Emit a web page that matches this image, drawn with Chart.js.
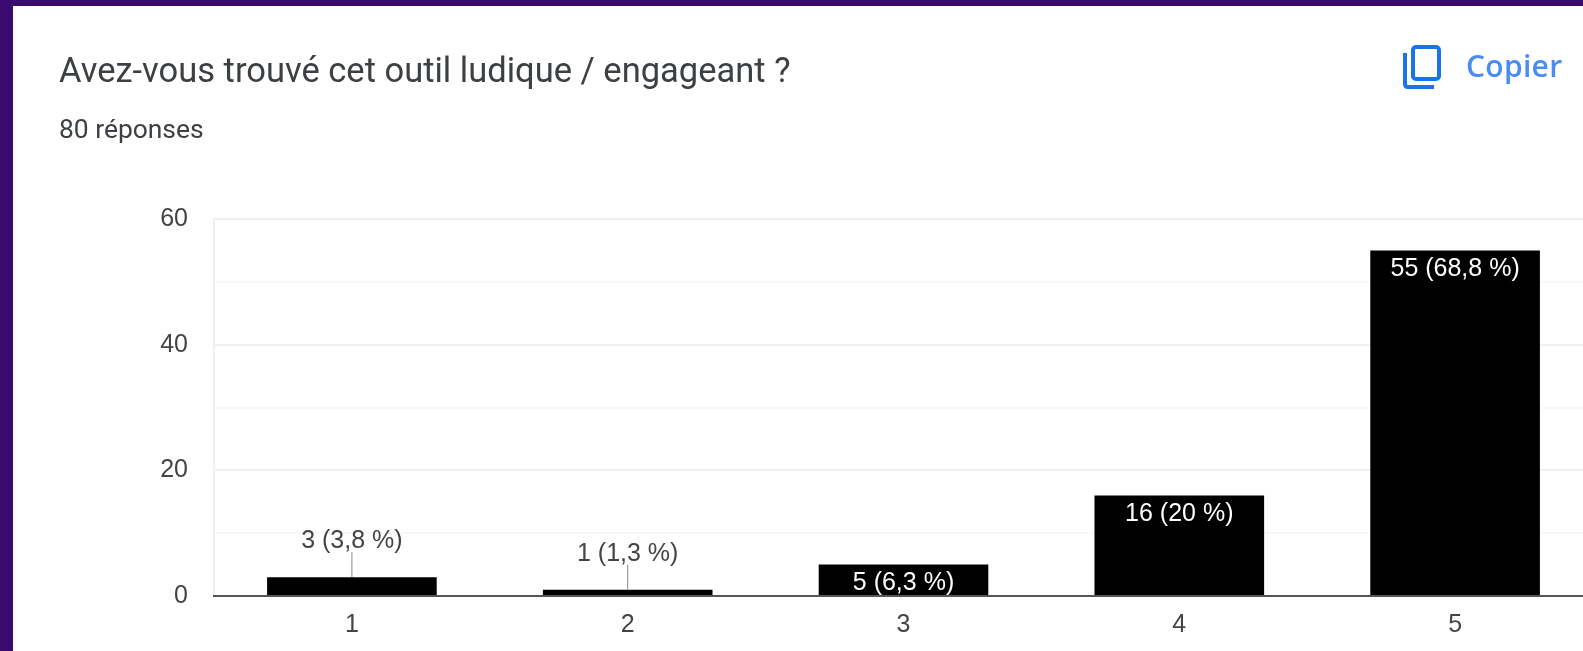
<!DOCTYPE html>
<html lang="fr">
<head>
<meta charset="utf-8">
<title>Avez-vous trouvé cet outil ludique / engageant ?</title>
<script src="https://cdn.jsdelivr.net/npm/chart.js@4"></script>
<style>
  html, body { margin: 0; padding: 0; width: 1583px; height: 651px; overflow: hidden; background: #3a0a6e; }
  #carte { position: absolute; left: 13px; top: 6px; width: 1570px; height: 645px; background: #fff; }
  /* le canvas dépasse à droite : le tracé est coupé par le bord de la capture */
  #graphique { position: absolute; left: 0; top: 0; }
  .texte { position: absolute; white-space: nowrap; font-family: Roboto, sans-serif; }
  #titre { left: 59px; top: 50px; font-size: 34.5px; line-height: 40px; color: #3c4043; }
  #reponses { left: 59px; top: 114px; font-size: 26.4px; line-height: 30px; color: #3c4043; }
  #copier { left: 1466px; top: 48px; font-size: 30px; line-height: 36px; letter-spacing: 0.3px; color: #4a8cf0; font-family: "Open Sans", sans-serif; font-weight: 600; }
  #icone { position: absolute; left: 1403px; top: 45px; }
</style>
</head>
<body>
<div id="carte"></div>
<canvas id="graphique" width="1600" height="651"></canvas>
<div class="texte" id="titre">Avez-vous trouvé cet outil ludique / engageant ?</div>
<div class="texte" id="reponses">80 réponses</div>
<svg id="icone" width="38" height="44" viewBox="0 0 38 44" fill="none" stroke="#1a73e8" stroke-width="4">
  <rect x="10" y="2" width="26" height="32" rx="3"></rect>
  <path d="M2 8 V39 Q2 42 5 42 H31"></path>
</svg>
<div class="texte" id="copier">Copier</div>
<script>
    // Données
    const categories = ['1', '2', '3', '4', '5'];
    const valeurs = [3, 1, 5, 16, 55];
    const etiquettes = ['3 (3,8 %)', '1 (1,3 %)', '5 (6,3 %)', '16 (20 %)', '55 (68,8 %)'];
    const ticksAffiches = [0, 20, 40, 60];

    const colorTexte = '#444444';
    const familleLabels = '"Liberation Sans", Arial, sans-serif';

    // Étiquettes de valeur : dans la barre si elle est assez haute, sinon au-dessus avec un trait
    const etiquettesBarres = {
        id: 'etiquettesBarres',
        afterDatasetsDraw(chart) {
            const { ctx } = chart;
            const barres = chart.getDatasetMeta(0).data;
            ctx.save();
            ctx.font = '25px ' + familleLabels;
            ctx.textAlign = 'center';
            ctx.textBaseline = 'middle';
            barres.forEach(function (barre, i) {
                if (valeurs[i] >= 5) {
                    ctx.fillStyle = '#ffffff';
                    ctx.fillText(etiquettes[i], barre.x, barre.y + 19);
                } else {
                    ctx.strokeStyle = '#888888';
                    ctx.lineWidth = 1;
                    ctx.beginPath();
                    ctx.moveTo(barre.x, barre.y);
                    ctx.lineTo(barre.x, barre.y - 25);
                    ctx.stroke();
                    ctx.fillStyle = colorTexte;
                    ctx.fillText(etiquettes[i], barre.x, barre.y - 36);
                }
            });
            ctx.restore();
        }
    };

    new Chart(document.getElementById('graphique'), {
        type: 'bar',
        data: {
            labels: categories,
            datasets: [{
                data: valeurs,
                backgroundColor: '#000000',
                categoryPercentage: 1,
                barPercentage: 0.615
            }]
        },
        options: {
            responsive: false,
            animation: false,
            layout: { padding: { left: 0, top: 219, right: 7, bottom: 0 } },
            plugins: {
                legend: { display: false },
                tooltip: { enabled: false }
            },
            scales: {
                y: {
                    min: 0,
                    max: 60,
                    afterFit: function (scale) { scale.width = 214; },
                    ticks: {
                        stepSize: 10,
                        padding: 26,
                        color: colorTexte,
                        font: { family: familleLabels, size: 25 },
                        callback: function (value) { return ticksAffiches.includes(value) ? value : ''; }
                    },
                    grid: {
                        drawTicks: false,
                        lineWidth: 2,
                        color: function (c) { return ticksAffiches.includes(c.tick.value) ? '#f0f0f0' : '#f8f8f8'; }
                    },
                    border: { color: '#f0f0f0', width: 2 }
                },
                x: {
                    afterFit: function (scale) { scale.height = 55; },
                    ticks: {
                        padding: 14,
                        maxRotation: 0,
                        color: colorTexte,
                        font: { family: familleLabels, size: 25 }
                    },
                    grid: { display: false, drawTicks: false },
                    border: { color: '#555555', width: 2 }
                }
            }
        },
        plugins: [etiquettesBarres]
    });
</script>
</body>
</html>
